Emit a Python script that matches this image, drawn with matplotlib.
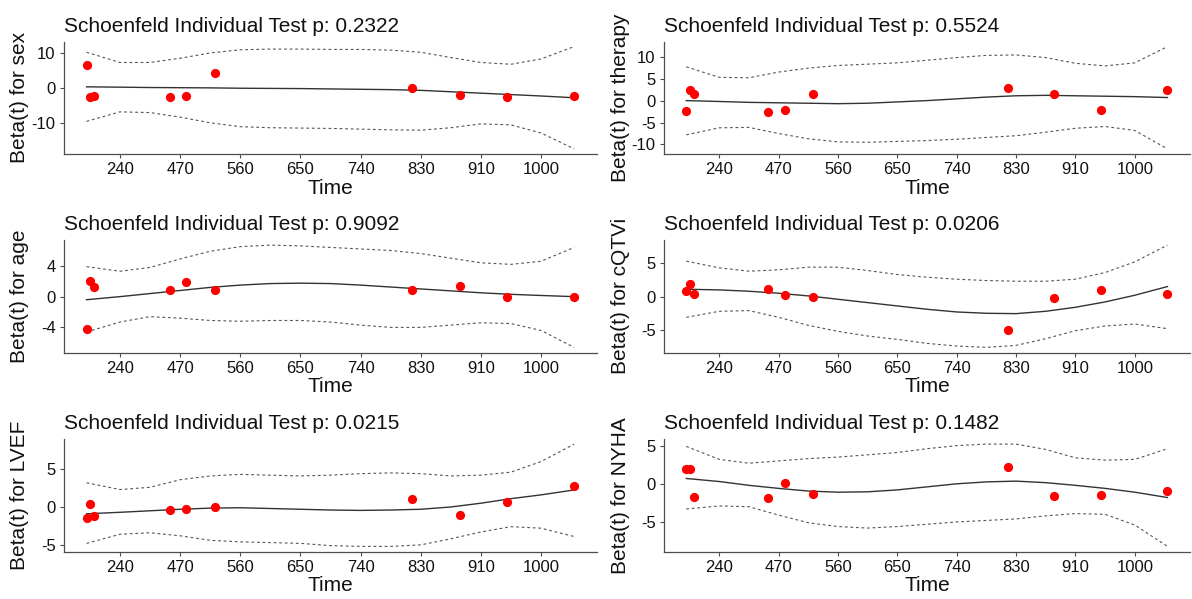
import matplotlib.pyplot as plt

plt.rcParams['font.family'] = ['Liberation Sans', 'DejaVu Sans']
plt.rcParams['axes.unicode_minus'] = False

# x axis is on the transformed (rank) time scale, ticks at 0..7
time_labels = ['240', '470', '560', '650', '740', '830', '910', '1000']
event_pos = [-0.555, -0.50, -0.425, 0.83, 1.105, 1.575, 4.86, 5.645, 6.43, 7.55]
grid_pos = [-0.555, 0, 0.5, 1, 1.5, 2, 2.5, 3, 3.5, 4, 4.5, 5, 5.5, 6, 6.5, 7, 7.55]

variables = ['sex', 'therapy', 'age', 'cQTVi', 'LVEF', 'NYHA']
p_values = ['0.2322', '0.5524', '0.9092', '0.0206', '0.0215', '0.1482']
y_ticks = [[-10, 0, 10], [-10, -5, 0, 5, 10], [-4, 0, 4],
           [-5, 0, 5], [-5, 0, 5], [-5, 0, 5]]

# scaled Schoenfeld residuals
resid_sex = [6.6, -2.4, -2.1, -2.4, -2.3, 4.2, 0.0, -2.0, -2.4, -2.2]
resid_therapy = [-2.3, 2.5, 1.4, -2.7, -2.2, 1.6, 2.9, 1.4, -2.2, 2.5]
resid_age = [-4.2, 2.06, 1.3, 0.9, 1.85, 0.9, 0.8, 1.4, -0.1, 0.0]
resid_cqtvi = [0.85, 1.9, 0.35, 1.2, 0.25, 0.0, -5.0, -0.2, 0.95, 0.35]
resid_lvef = [-1.4, 0.4, -1.15, -0.45, -0.3, 0.0, 1.0, -1.05, 0.65, 2.75]
resid_nyha = [1.95, 2.0, -1.7, -1.8, 0.05, -1.3, 2.2, -1.55, -1.45, -0.9]

# smoothed beta(t) with confidence bands
fit_sex = [0.4, 0.3, 0.2, 0.15, 0.1, 0.0, -0.05, -0.1, -0.2, -0.3, -0.4, -0.6, -1.0, -1.4, -1.8, -2.2, -2.7]
upper_sex = [10.2, 7.3, 7.3, 8.5, 10.0, 10.9, 11.1, 11.1, 11.0, 11.0, 10.8, 10.2, 8.7, 7.3, 6.8, 8.3, 11.8]
lower_sex = [-9.4, -6.7, -6.9, -8.2, -9.8, -10.9, -11.2, -11.3, -11.4, -11.6, -11.8, -11.9, -11.2, -10.1, -10.4, -12.7, -17.2]

fit_therapy = [0.0, -0.2, -0.4, -0.5, -0.6, -0.7, -0.6, -0.3, 0.0, 0.4, 0.8, 1.1, 1.2, 1.1, 1.0, 0.9, 0.7]
upper_therapy = [7.7, 5.3, 5.2, 6.5, 7.4, 8.0, 8.3, 8.6, 9.2, 9.8, 10.3, 10.4, 9.8, 8.5, 7.9, 8.6, 12.3]
lower_therapy = [-7.8, -6.2, -6.1, -7.5, -8.7, -9.4, -9.5, -9.3, -9.1, -8.8, -8.4, -8.0, -7.2, -6.3, -5.9, -6.8, -11.0]

fit_age = [-0.4, 0.0, 0.4, 0.8, 1.2, 1.5, 1.7, 1.75, 1.7, 1.5, 1.25, 1.0, 0.75, 0.5, 0.3, 0.15, 0.0]
upper_age = [3.9, 3.3, 3.8, 4.9, 5.9, 6.5, 6.7, 6.6, 6.4, 6.2, 6.0, 5.6, 5.0, 4.4, 4.2, 4.6, 6.4]
lower_age = [-4.6, -3.3, -2.6, -2.8, -3.1, -3.2, -3.1, -3.1, -3.3, -3.7, -4.0, -4.0, -3.7, -3.4, -3.5, -4.4, -6.6]

fit_cqtvi = [1.1, 1.0, 0.8, 0.5, 0.1, -0.4, -0.9, -1.4, -1.9, -2.3, -2.5, -2.55, -2.2, -1.6, -0.8, 0.2, 1.5]
upper_cqtvi = [5.3, 4.3, 3.8, 4.0, 4.4, 4.4, 3.9, 3.3, 2.9, 2.6, 2.4, 2.3, 2.3, 2.6, 3.6, 5.2, 7.7]
lower_cqtvi = [-3.1, -2.2, -2.1, -3.1, -4.3, -5.2, -5.9, -6.4, -7.0, -7.4, -7.6, -7.3, -6.3, -5.1, -4.4, -4.1, -4.8]

fit_lvef = [-0.9, -0.7, -0.5, -0.3, -0.15, -0.1, -0.2, -0.3, -0.4, -0.45, -0.4, -0.3, 0.0, 0.5, 1.1, 1.6, 2.25]
upper_lvef = [3.2, 2.3, 2.6, 3.6, 4.1, 4.3, 4.2, 4.1, 4.2, 4.4, 4.5, 4.4, 4.1, 4.2, 4.6, 6.0, 8.3]
lower_lvef = [-4.8, -3.6, -3.4, -3.8, -4.4, -4.6, -4.7, -4.8, -5.1, -5.2, -5.2, -5.0, -4.2, -3.3, -2.6, -2.8, -3.9]

fit_nyha = [0.7, 0.3, -0.2, -0.6, -0.95, -1.1, -1.05, -0.8, -0.4, 0.0, 0.25, 0.35, 0.15, -0.2, -0.6, -1.1, -1.8]
upper_nyha = [4.9, 3.2, 2.7, 3.0, 3.3, 3.5, 3.8, 4.1, 4.6, 5.0, 5.2, 5.2, 4.5, 3.4, 3.1, 3.2, 4.6]
lower_nyha = [-3.3, -2.9, -3.0, -4.1, -5.1, -5.6, -5.8, -5.6, -5.3, -5.0, -4.8, -4.6, -4.2, -3.9, -4.0, -5.4, -8.2]

residuals = [resid_sex, resid_therapy, resid_age, resid_cqtvi, resid_lvef, resid_nyha]
fits = [fit_sex, fit_therapy, fit_age, fit_cqtvi, fit_lvef, fit_nyha]
uppers = [upper_sex, upper_therapy, upper_age, upper_cqtvi, upper_lvef, upper_nyha]
lowers = [lower_sex, lower_therapy, lower_age, lower_cqtvi, lower_lvef, lower_nyha]

W, H = 1192, 599
fig = plt.figure(figsize=(W / 100, H / 100), dpi=100)

col_left = [64, 664]
col_right = [597, 1190]
ylab_x = [20, 620]
row_top = [41.5, 240, 439]
panel_h = 112.5
axis_col = '#4d4d4d'

for i, var in enumerate(variables):
    row, col = i // 2, i % 2
    left, right, top = col_left[col], col_right[col], row_top[row]
    ax = fig.add_axes([left / W, 1 - (top + panel_h) / H, (right - left) / W, panel_h / H])

    ax.plot(grid_pos, fits[i], color='#333333', lw=1.0)
    ax.plot(grid_pos, uppers[i], color='#555555', lw=0.8, ls=(0, (2.5, 2.5)))
    ax.plot(grid_pos, lowers[i], color='#555555', lw=0.8, ls=(0, (2.5, 2.5)))
    ax.scatter(event_pos, residuals[i], s=44, color='#ff0000', zorder=3, linewidths=0)

    lo = min(min(lowers[i]), min(residuals[i]))
    hi = max(max(uppers[i]), max(residuals[i]))
    pad = 0.05 * (hi - lo)
    ax.set_ylim(lo - pad, hi + pad)
    ax.set_xlim(-0.93, 7.93)

    ax.set_xticks(range(len(time_labels)))
    ax.set_xticklabels(time_labels)
    ax.set_yticks(y_ticks[i])
    ax.tick_params(labelsize=12, length=3, width=0.8, color=axis_col, pad=3, labelcolor='#111111')

    for s in ['top', 'right']:
        ax.spines[s].set_visible(False)
    for s in ['left', 'bottom']:
        ax.spines[s].set_color(axis_col)
        ax.spines[s].set_linewidth(0.9)

    ax.set_title('Schoenfeld Individual Test p: ' + p_values[i], loc='left',
                 fontsize=15, pad=7, color='#111111')
    ax.set_xlabel('Time', fontsize=15, labelpad=1, color='#111111')
    fig.text(ylab_x[col] / W, 1 - (top + panel_h / 2) / H, 'Beta(t) for ' + var,
             rotation=90, ha='center', va='center', fontsize=15, color='#111111')

fig.savefig('out.png', dpi=100)
